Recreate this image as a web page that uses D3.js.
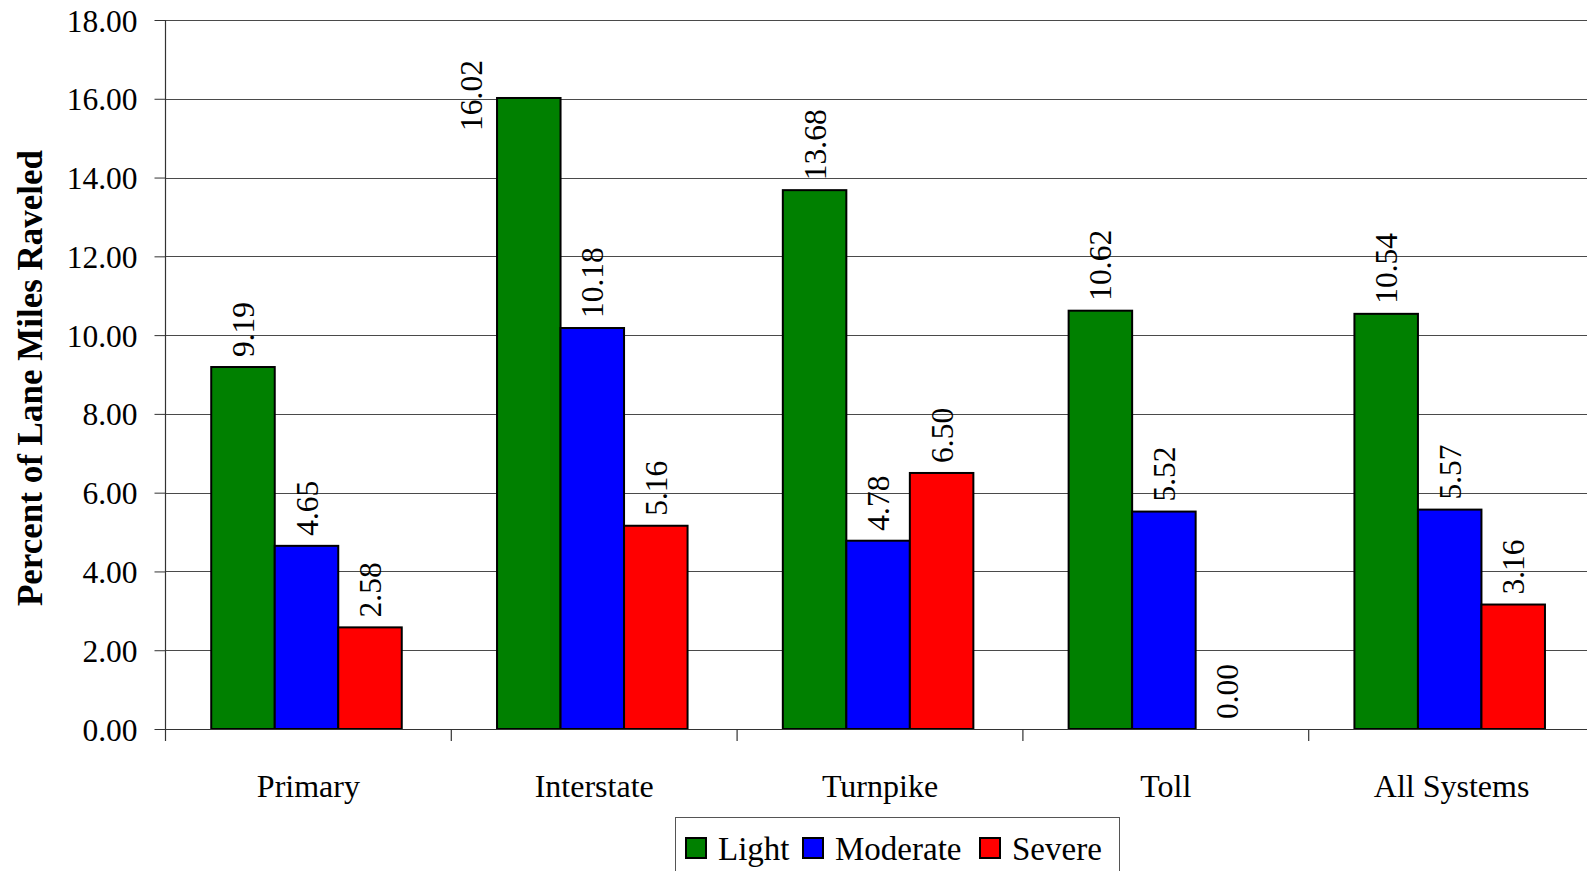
<!DOCTYPE html>
<html>
<head>
<meta charset="utf-8">
<script src="https://cdn.jsdelivr.net/npm/d3@7"></script>
<style>
  html, body { margin: 0; padding: 0; background: #fff; overflow: hidden; }
  svg { display: block; }
  svg text { font-family: "Liberation Serif", "Times New Roman", serif !important; }
</style>
</head>
<body>
<svg id="chart" width="1587" height="871"></svg>
<script>
const categories = ["Primary", "Interstate", "Turnpike", "Toll", "All Systems"];
const seriesNames = ["Light", "Moderate", "Severe"];
const lightValues = [9.19, 16.02, 13.68, 10.62, 10.54];
const moderateValues = [4.65, 10.18, 4.78, 5.52, 5.57];
const severeValues = [2.58, 5.16, 6.50, 0.00, 3.16];
const yTicks = [0, 2, 4, 6, 8, 10, 12, 14, 16, 18];
const colors = ["#008000", "#0000ff", "#ff0000"];
const yTitle = "Percent of Lane Miles Raveled";

const seriesValues = [lightValues, moderateValues, severeValues];

const svg = d3.select("#chart");
const plotLeft = 165.5, plotTop = 20, plotBottom = 729;
const band = 285.8;
const plotRight = plotLeft + band * categories.length;

const x = d3.scaleBand().domain(categories).range([plotLeft, plotRight]).padding(0);
const inner = d3.scaleBand().domain(seriesNames)
  .range([0, x.bandwidth()]).paddingInner(0).paddingOuter(0.75).align(0.48);
const y = d3.scaleLinear().domain([0, 18]).range([plotBottom, plotTop]);

// gridlines
const grid = svg.append("g");
grid.selectAll("line").data(yTicks.filter(d => d > 0)).enter().append("line")
  .attr("x1", plotLeft).attr("x2", 1587)
  .attr("y1", d => Math.round(y(d)) + 0.5).attr("y2", d => Math.round(y(d)) + 0.5)
  .attr("stroke", "#4a4a4a").attr("stroke-width", 1);

// y axis
const yAxis = d3.axisLeft(y).tickValues(yTicks).tickFormat(d3.format(".2f")).tickSize(11).tickPadding(17);
const yg = svg.append("g").attr("transform", `translate(${plotLeft},0)`).call(yAxis);
yg.select(".domain").remove();
yg.selectAll(".tick line").attr("stroke", "#333");
yg.selectAll(".tick text").attr("font-size", 31.5).attr("fill", "#000").attr("dy", "0.35em");
svg.append("line").attr("x1", plotLeft).attr("x2", plotLeft).attr("y1", plotTop).attr("y2", plotBottom + 12)
  .attr("stroke", "#333").attr("stroke-width", 1.2);

// bars
const groups = svg.append("g").selectAll("g").data(categories).enter().append("g")
  .attr("transform", d => `translate(${x(d)},0)`);
groups.selectAll("rect").data((c, i) => seriesNames.map((s, j) => ({s, j, v: seriesValues[j][i]})))
  .enter().append("rect")
  .attr("x", d => inner(d.s)).attr("width", inner.bandwidth())
  .attr("y", d => y(d.v)).attr("height", d => plotBottom - y(d.v))
  .attr("fill", d => colors[d.j]).attr("stroke", "#000").attr("stroke-width", 2)
  .style("display", d => d.v > 0 ? null : "none");

// x axis
svg.append("line").attr("x1", plotLeft).attr("x2", 1587).attr("y1", plotBottom + 0.5).attr("y2", plotBottom + 0.5)
  .attr("stroke", "#333").attr("stroke-width", 1.2);
const xAxis = d3.axisBottom(x).tickSize(0).tickPadding(0);
const xg = svg.append("g").attr("transform", `translate(0,${plotBottom})`).call(xAxis);
xg.select(".domain").remove();
xg.selectAll(".tick text").attr("font-size", 32).attr("fill", "#000")
  .attr("y", 68).attr("dy", 0);
svg.append("g").selectAll("line").data(categories).enter().append("line")
  .attr("x1", (d, i) => plotLeft + band * (i + 1)).attr("x2", (d, i) => plotLeft + band * (i + 1))
  .attr("y1", plotBottom).attr("y2", plotBottom + 12).attr("stroke", "#333").attr("stroke-width", 1.2);

// labels
const fmt = d3.format(".2f");
groups.selectAll("text.lbl").data((c, i) => seriesNames.map((s, j) => ({s, j, v: seriesValues[j][i]})))
  .enter().append("text").attr("class", "lbl")
  .attr("font-size", 31.5).attr("fill", "#000")
  .attr("text-anchor", "start")
  .attr("transform", d => {
    let cx = inner(d.s) + inner.bandwidth() / 2;
    let sy = y(d.v) - 10;
    // label would run too high: placed beside the bar instead
    if (sy - 68 < plotTop + 40) { cx = inner(d.s) - 26; sy = y(d.v) + 33; }
    return `translate(${cx},${sy}) rotate(-90)`;
  })
  .attr("dy", "0.35em")
  .text(d => fmt(d.v));

// y title
svg.append("text")
  .attr("transform", `translate(30,378) rotate(-90)`)
  .attr("text-anchor", "middle").attr("dy", "0.35em")
  .attr("font-size", 35).attr("font-weight", "bold").attr("fill", "#000")
  .text(yTitle);

// legend
const lg = svg.append("g");
lg.append("rect").attr("x", 675.5).attr("y", 817.5).attr("width", 444).attr("height", 80)
  .attr("fill", "#fff").attr("stroke", "#555").attr("stroke-width", 1);
const legX = [686, 803, 980];
const items = lg.selectAll("g.item").data(seriesNames).enter().append("g").attr("class", "item")
  .attr("transform", (d, i) => `translate(${legX[i]},838)`);
items.append("rect").attr("width", 20).attr("height", 20)
  .attr("fill", (d, i) => colors[i]).attr("stroke", "#000").attr("stroke-width", 2);
items.append("text").attr("x", 32).attr("y", 22).attr("font-size", 33).attr("fill", "#000").text(d => d);
</script>
</body>
</html>
